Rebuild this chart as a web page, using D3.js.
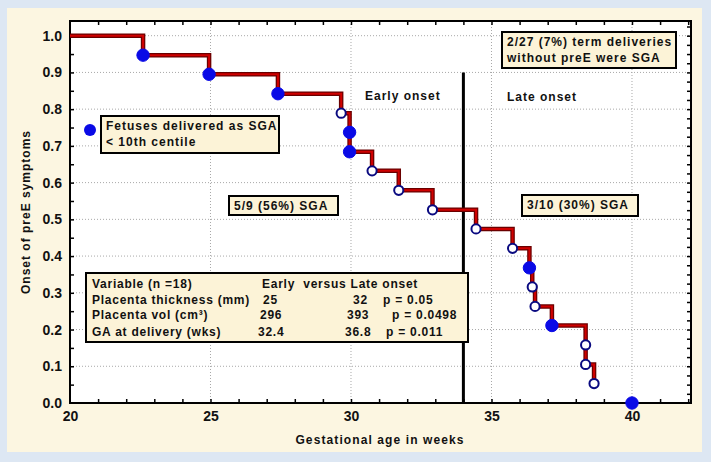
<!DOCTYPE html>
<html>
<head>
<meta charset="utf-8">
<script src="https://cdn.jsdelivr.net/npm/d3@7"></script>
<style>
  body { margin: 0; background: #dde7f3; }
  text { font-family: "Liberation Sans", Arial, sans-serif; font-weight: bold; fill: #111; }
</style>
</head>
<body>
<div id="chart"></div>
<script>
var width = 711;
var height = 462;

// event times (weeks) and survival level after each event
var times = [22.6, 24.95, 27.4, 29.65, 29.95, 29.95, 30.75, 31.7, 32.9, 34.45, 35.75, 36.35, 36.45, 36.55, 37.15, 38.35, 38.35, 38.65, 40.0];
var surv  = [0.947, 0.895, 0.842, 0.789, 0.737, 0.684, 0.632, 0.579, 0.526, 0.474, 0.421, 0.368, 0.316, 0.263, 0.211, 0.158, 0.105, 0.053, 0.0];
var sga   = [1, 1, 1, 0, 1, 1, 0, 0, 0, 0, 0, 1, 0, 0, 1, 0, 0, 0, 1];

var xTicks = [20, 25, 30, 35, 40];
var yTicks = [0, 0.1, 0.2, 0.3, 0.4, 0.5, 0.6, 0.7, 0.8, 0.9, 1.0];
var cutoff = 34.0;

var tableRows = [
  ["Variable (n =18)", "Early  versus Late onset", "", ""],
  ["Placenta thickness (mm)", "25", "32", "p = 0.05"],
  ["Placenta vol (cm\u00b3)", "296", "393", "p = 0.0498"],
  ["GA at delivery (wks)", "32.4", "36.8", "p = 0.011"]
];

var svg = d3.select("#chart").append("svg")
    .attr("width", width)
    .attr("height", height);

// cream panel
svg.append("rect").attr("x", 7).attr("y", 8).attr("width", 695).attr("height", 444)
    .attr("fill", "#fcf6e1");

var m = {left: 70, top: 21, right: 691, bottom: 403};

var xScale = d3.scaleLinear().domain([20, 42.1]).range([m.left, m.right]);
var yScale = d3.scaleLinear().domain([0, 1.04]).range([m.bottom, m.top]);

svg.append("rect").attr("x", m.left).attr("y", m.top)
    .attr("width", m.right - m.left).attr("height", m.bottom - m.top)
    .attr("fill", "#fff");

// dotted grid
svg.selectAll("line.gx").data(xTicks.slice(1)).enter().append("line")
    .attr("x1", function(d){ return xScale(d); }).attr("x2", function(d){ return xScale(d); })
    .attr("y1", m.top).attr("y2", m.bottom)
    .attr("stroke", "#a8a8a8").attr("stroke-dasharray", "1,2");
svg.selectAll("line.gy").data(yTicks.slice(1)).enter().append("line")
    .attr("x1", m.left).attr("x2", m.right)
    .attr("y1", function(d){ return yScale(d); }).attr("y2", function(d){ return yScale(d); })
    .attr("stroke", "#a8a8a8").attr("stroke-dasharray", "1,2");

// minor inward ticks
function minor(axis, tr, vals) {
  svg.append("g").attr("transform", tr)
    .call(axis.tickValues(vals).tickFormat("").tickSizeInner(-4).tickSizeOuter(0))
    .call(function(g){ g.select(".domain").remove(); g.selectAll("line").attr("stroke", "#000").attr("stroke-width", 1.5); });
}
minor(d3.axisBottom(xScale), "translate(0," + m.bottom + ")", d3.range(21, 42.1, 1));
minor(d3.axisTop(xScale), "translate(0," + m.top + ")", d3.range(21, 42.1, 1));
minor(d3.axisLeft(yScale), "translate(" + m.left + ",0)", d3.range(0.05, 1.04, 0.05));
minor(d3.axisRight(yScale), "translate(" + m.right + ",0)", d3.range(0.025, 1.04, 0.025));

// labels
function styleLabels(g) {
  g.select(".domain").remove();
  g.selectAll("text").attr("font-size", 14).attr("font-family", "Liberation Sans")
      .attr("font-weight", "bold").attr("fill", "#111");
}
svg.append("g").attr("transform", "translate(0," + m.bottom + ")")
    .call(d3.axisBottom(xScale).tickValues(xTicks).tickSize(0).tickPadding(8).tickFormat(d3.format("d")))
    .call(styleLabels);
svg.append("g").attr("transform", "translate(" + m.left + ",0)")
    .call(d3.axisLeft(yScale).tickValues(yTicks).tickSize(0).tickPadding(8).tickFormat(d3.format(".1f")))
    .call(styleLabels);

svg.append("rect").attr("x", m.left).attr("y", m.top)
    .attr("width", m.right - m.left).attr("height", m.bottom - m.top)
    .attr("fill", "none").attr("stroke", "#000").attr("stroke-width", 2);

svg.append("text").attr("transform", "translate(26," + ((m.top + m.bottom) / 2) + ") rotate(-90)")
    .attr("text-anchor", "middle").attr("dy", "0.35em").attr("font-size", 12).attr("letter-spacing", 1)
    .text("Onset of preE symptoms");
svg.append("text").attr("x", 380).attr("y", 444).attr("text-anchor", "middle")
    .attr("font-size", 12).attr("letter-spacing", 1.1)
    .text("Gestational age in weeks");

// cutoff line
svg.append("line").attr("x1", xScale(cutoff)).attr("x2", xScale(cutoff))
    .attr("y1", yScale(0.9)).attr("y2", m.bottom)
    .attr("stroke", "#000").attr("stroke-width", 3);

// step line
var path = d3.path();
path.moveTo(xScale(20), yScale(1));
var prev = 1;
for (var i = 0; i < times.length - 1; i++) {
  path.lineTo(xScale(times[i]), yScale(prev));
  path.lineTo(xScale(times[i]), yScale(surv[i]));
  prev = surv[i];
}
svg.append("path").attr("d", path.toString()).attr("fill", "none")
    .attr("stroke", "#6a0000").attr("stroke-width", 4.5);
svg.append("path").attr("d", path.toString()).attr("fill", "none")
    .attr("stroke", "#d00000").attr("stroke-width", 2);

// markers
var pts = times.map(function(t, i){ return {t: t, s: surv[i], sga: sga[i]}; });
svg.selectAll("circle.pt").data(pts).enter().append("circle")
    .attr("cx", function(d){ return xScale(d.t); })
    .attr("cy", function(d){ return yScale(d.s); })
    .attr("r", function(d){ return d.sga ? 6.2 : 4.6; })
    .attr("fill", function(d){ return d.sga ? "#0a0ae6" : "#fff"; })
    .attr("stroke", function(d){ return d.sga ? "#0a0ae6" : "#0a0a80"; })
    .attr("stroke-width", function(d){ return d.sga ? 1 : 2; });

// boxes
function box(x, y, w, h, lines, lh) {
  svg.append("rect").attr("x", x).attr("y", y).attr("width", w).attr("height", h)
      .attr("fill", "#fcf3d7").attr("stroke", "#000").attr("stroke-width", 2);
  lines.forEach(function(l, k){
    svg.append("text").attr("x", x + 5).attr("y", y + 14 + k * lh)
        .attr("font-size", 12).attr("letter-spacing", 1).text(l);
  });
}
box(101, 116, 178, 37, ["Fetuses delivered as SGA", "< 10th centile"], 16);
svg.append("circle").attr("cx", 90).attr("cy", 130).attr("r", 6).attr("fill", "#0a0ae6");
box(229, 196, 109, 19, ["5/9 (56%) SGA"], 0);
box(502, 32, 174, 36, ["2/27 (7%) term deliveries", "without preE were SGA"], 16);
box(522, 195, 116, 21, ["3/10 (30%) SGA"], 0);

svg.append("text").attr("x", 365).attr("y", 100).attr("font-size", 12).attr("letter-spacing", 1).text("Early onset");
svg.append("text").attr("x", 507).attr("y", 101).attr("font-size", 12).attr("letter-spacing", 1).text("Late onset");

// table (cell x positions follow the slightly ragged columns of the original)
svg.append("rect").attr("x", 86).attr("y", 273).attr("width", 382).attr("height", 69)
    .attr("fill", "#fcf3d7").attr("stroke", "#000").attr("stroke-width", 2);
var cellX = [
  [92, 262, 0, 0],
  [92, 263, 353, 383],
  [92, 260, 347, 392],
  [92, 258, 345, 386]
];
var rowY = [288, 303.5, 319, 335.5];
tableRows.forEach(function(r, ri){
  r.forEach(function(c, ci){
    if (!c) return;
    svg.append("text").attr("x", cellX[ri][ci]).attr("y", rowY[ri])
        .attr("font-size", 12).attr("letter-spacing", 0.75)
        .style("white-space", "pre")
        .text(c);
  });
});
</script>
</body>
</html>
